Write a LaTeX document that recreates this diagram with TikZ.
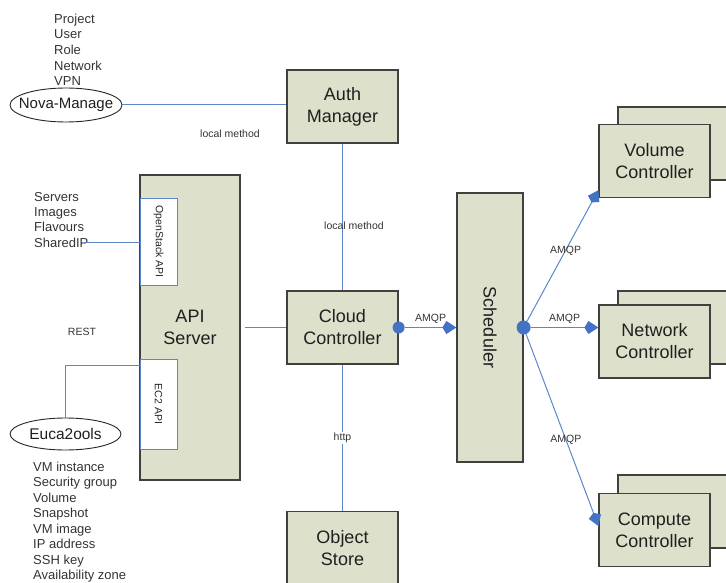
\documentclass[tikz,border=0pt]{standalone}
\usepackage{fontspec}
\setmainfont{Liberation Sans}
\usepackage[dvipsnames]{xcolor}
\definecolor{BOXcolor}{HTML}{dde0cb}
\definecolor{EDGEcolor}{HTML}{404040}
\definecolor{LINKcolor}{HTML}{5b87c9}
\definecolor{TIPcolor}{HTML}{4472c4}
\usepackage{tikz}
\usetikzlibrary{math,arrows.meta,shapes.geometric}

\begin{document}
\begin{tikzpicture}[x=1pt, y=-1pt,
    comp/.style={draw=EDGEcolor, line width=1.2pt, fill=BOXcolor, text=black!88,
        align=center, inner sep=0pt, font=\fontsize{18pt}{22pt}\selectfont},
    apibox/.style={draw=LINKcolor, line width=0.9pt, fill=white, rotate=-90,
        inner sep=0pt, text=black!85, font=\fontsize{10.5pt}{12pt}\selectfont},
    client/.style={ellipse, draw=black!85, line width=0.9pt, fill=white, inner sep=0pt,
        text=black!88},
    listtext/.style={anchor=base west, inner sep=0pt, text=black!80,
        font=\fontsize{13pt}{15pt}\selectfont},
    note/.style={inner sep=1pt, text=black!80, font=\fontsize{10.5pt}{12pt}\selectfont},
    link/.style={draw=LINKcolor, line width=1pt},
    amqp/.style={link, -{Kite[length=14pt, width=13pt, inset=4pt, color=TIPcolor]}},
    hub/.style={circle, fill=TIPcolor, inner sep=0pt}]
    \tikzmath{%
        \wctrl=111;
        \hctrl=73;
        \xfront=654.5;
        \xback=673.5;
    };

    \useasboundingbox (0, 0) rectangle (726, 583);
    \clip (0, 0) rectangle (726, 583);

    % core services
    \node [comp, minimum width=\wctrl, minimum height=\hctrl] (auth) at (342.5, 106.5) {Auth\\Manager};
    \node [comp, minimum width=\wctrl, minimum height=\hctrl] (cloud) at (342.5, 327.5) {Cloud\\Controller};
    \node [comp, minimum width=\wctrl, minimum height=\hctrl] (objstore) at (342.5, 548) {Object\\Store};
    \node [comp, minimum width=100, minimum height=305] (apiserver) at (190, 327.5) {API\\Server};
    \node [apibox, minimum width=87, minimum height=37] (osapi) at (158.5, 241.5) {OpenStack API};
    \node [apibox, minimum width=90, minimum height=37] (ec2api) at (158.5, 404) {EC2 API};
    \node [comp, rotate=-90, minimum width=269, minimum height=66] (sched) at (490, 327.5) {Scheduler};

    % workers (stacked)
    \foreach \name/\txt/\y/\dy in {vol/Volume/161/17.5, net/Network/341.5/14, cmp/Compute/530/18.5} {%
            \node [comp, minimum width=\wctrl, minimum height=\hctrl] (\name-back) at (\xback, \y-\dy) {};
            \node [comp, minimum width=\wctrl, minimum height=\hctrl] (\name) at (\xfront, \y) {\txt\\Controller};
        }

    % clients
    \node [client, minimum width=112, minimum height=34, font=\fontsize{15pt}{18pt}\selectfont] (nova) at (66, 105) {\makebox[0pt]{Nova-Manage}};
    \node [client, minimum width=111, minimum height=32, font=\fontsize{15.5pt}{18pt}\selectfont] (euca) at (65.5, 434) {\makebox[0pt]{Euca2ools}};
    \foreach \item [count=\i] in {Project, User, Role, Network, VPN} {%
            \node [listtext] (novaitem\i) at (54, {23.3+(\i-1)*15.6}) {\item};
        }
    \foreach \item [count=\i] in {Servers, Images, Flavours, SharedIP} {%
            \node [listtext] (ositem\i) at (34, {201+(\i-1)*15.4}) {\item};
        }
    \foreach \item [count=\i] in {VM instance, Security group, Volume, Snapshot, VM image, IP address, SSH key, Availability zone} {%
            \node [listtext] (eucaitem\i) at (33, {471+(\i-1)*15.57}) {\item};
        }
    \coordinate (sharedip) at (84, 242);
    \coordinate (ec2in) at (140, 365);

    % links
    \draw [link] (nova.east) -- (nova.east -| auth.west);
    \node [note] (nmlabel) at (230, 134) {local method};
    \draw [link] (auth.south) -- (cloud.north);
    \node [note] (cclabel) at (354, 226) {local method};
    \draw [link] (cloud.south) -- (objstore.north)
    node [note, pos=0.5, fill=white] {http};
    \draw [link, shorten <=4pt] (apiserver.east) -- (cloud.west);
    \draw [link] (sharedip) -- (sharedip -| osapi.south);
    \draw [link] (euca.north) |- (ec2in);
    \node [note] (restlabel) at (82, 332) {REST};

    % amqp
    \node [hub, minimum size=12] (cloud-dot) at (cloud.east) {};
    \node [hub, minimum size=14] (sched-dot) at (sched.north) {};
    \draw [amqp] (cloud-dot) -- (sched.south)
    node [note, pos=0.5, yshift=9pt] {AMQP};
    \draw [amqp] (sched-dot) -- ([yshift=8pt]vol.south west)
    node [note, pos=0.54] {AMQP};
    \draw [amqp] (sched-dot) -- (sched-dot -| net.west)
    node [note, pos=0.5, yshift=9pt] {AMQP};
    \draw [amqp] (sched-dot) -- ([yshift=4pt]cmp.west)
    node [note, pos=0.55] {AMQP};

\end{tikzpicture}
\end{document}
